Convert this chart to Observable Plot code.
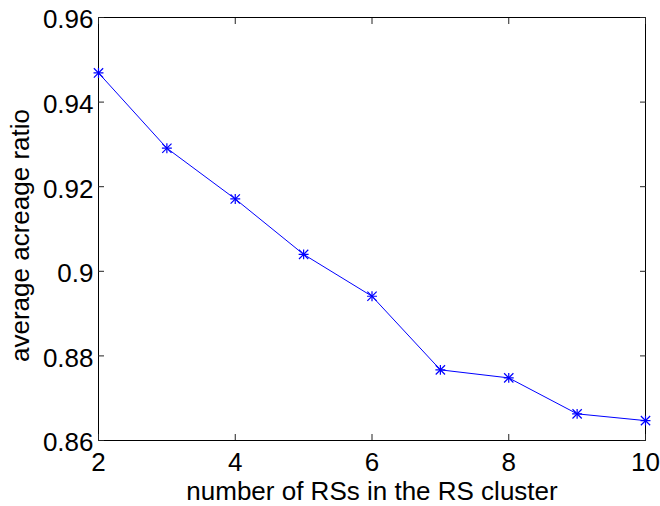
<!DOCTYPE html>
<html>
<head>
<meta charset="utf-8">
<script src="https://cdn.jsdelivr.net/npm/d3@7"></script>
<script src="https://cdn.jsdelivr.net/npm/@observablehq/plot@0.6"></script>
<style>
  html, body { margin: 0; padding: 0; background: #fff; }
</style>
</head>
<body>
<div id="chart"></div>
<script>
const numRS = [2, 3, 4, 5, 6, 7, 8, 9, 10];
const ratio = [0.9469, 0.9291, 0.9171, 0.9040, 0.8941, 0.8767, 0.8748, 0.8663, 0.8647];
const xTicks = [2, 4, 6, 8, 10];
const yTicks = [0.86, 0.88, 0.9, 0.92, 0.94, 0.96];
const xLabel = "number of RSs in the RS cluster";
const yLabel = "average acreage ratio";

const data = numRS.map((n, i) => ({n, r: ratio[i]}));
const fmtY = d => String(+d.toFixed(2));
const none = () => "";

const chart = Plot.plot({
  width: 660,
  height: 506,
  marginLeft: 98,
  marginRight: 15,
  marginTop: 17,
  marginBottom: 66,
  style: {fontFamily: "'Liberation Sans', Arial, sans-serif", fontSize: "26px", color: "#000", background: "#fff"},
  x: {domain: [2, 10]},
  y: {domain: [0.86, 0.96]},
  marks: [
    Plot.frame({stroke: "#000", strokeWidth: 1}),
    // inward ticks on all four sides
    Plot.axisX(xTicks, {anchor: "bottom", tickSize: -6, tickFormat: none, label: null, stroke: "#222"}),
    Plot.axisX(xTicks, {anchor: "top", tickSize: -6, tickFormat: none, label: null, stroke: "#222"}),
    Plot.axisY(yTicks, {anchor: "left", tickSize: -6, tickFormat: none, label: null, stroke: "#222"}),
    Plot.axisY(yTicks, {anchor: "right", tickSize: -6, tickFormat: none, label: null, stroke: "#222"}),
    // tick labels
    Plot.axisX(xTicks, {anchor: "bottom", tickSize: 0, tickPadding: 12, label: null, fill: "#000"}),
    Plot.axisY(yTicks, {anchor: "left", tickSize: 0, tickPadding: 5, tickFormat: fmtY, label: null, fill: "#000", dy: 2.5}),
    // data
    Plot.line(data, {x: "n", y: "r", stroke: "#0000ff", strokeWidth: 1}),
    Plot.dot(data, {x: "n", y: "r", symbol: "plus", r: 3.3, stroke: "#0000ff", strokeWidth: 1.2}),
    Plot.dot(data, {x: "n", y: "r", symbol: "times", r: 4.3, stroke: "#0000ff", strokeWidth: 1.2}),
    // axis titles
    Plot.text([xLabel], {frameAnchor: "bottom", textAnchor: "middle", lineAnchor: "middle", dy: 51.5, text: d => d, fill: "#000"}),
    Plot.text([yLabel], {frameAnchor: "left", textAnchor: "middle", lineAnchor: "middle", rotate: -90, dx: -78, dy: 6.5, text: d => d, fill: "#000"})
  ]
});
document.getElementById("chart").appendChild(chart);
</script>
</body>
</html>
